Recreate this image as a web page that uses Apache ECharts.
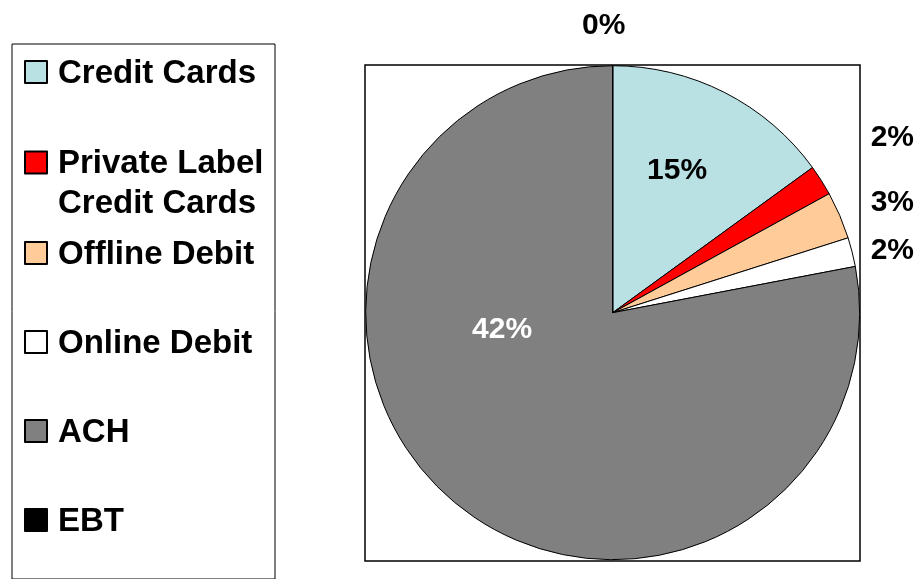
<!DOCTYPE html>
<html>
<head>
<meta charset="utf-8">
<script src="https://cdn.jsdelivr.net/npm/echarts@6/dist/echarts.min.js"></script>
<style>
  html, body { margin: 0; padding: 0; background: #fff; }
  #chart { width: 921px; height: 579px; }
</style>
</head>
<body>
<div id="chart"></div>
<script>
// ---- data ----
const categories = ['Credit Cards', 'Private Label Credit Cards', 'Offline Debit', 'Online Debit', 'ACH', 'EBT'];
// share of the circle each slice covers, in percent
const sliceShares = [15.0, 2.0, 3.1, 1.9, 78.0, 0];
// data labels as printed on the chart
const labelTexts = ['15%', '2%', '3%', '2%', '42%', '0%'];

// ---- styling ----
const sliceColors = ['#B9E0E3', '#FF0000', '#FFCC99', '#FFFFFF', '#808080', '#000000'];
const labelMode = ['inside', 'outside', 'outside', 'outside', 'inside', 'outside'];
const leaderLength = [0, 79, 33, 5, 0, 40];
const labelNudge = [[7, -29], [0, 0], [0, 0], [0, 0], [-30, -80], [-9, 0]];
const FONT = 'Liberation Sans, Arial, sans-serif';

const chart = echarts.init(document.getElementById('chart'));

const pieData = categories.map((name, i) => ({
  name: name,
  value: sliceShares[i],
  itemStyle: { color: sliceColors[i] },
  label: {
    position: labelMode[i],
    alignTo: (labelMode[i] === 'outside' && i !== 5) ? 'edge' : 'none',
    color: i === 4 ? '#FFFFFF' : '#000000'
  },
  labelLine: { show: false, length: leaderLength[i], length2: 0 }
}));

chart.setOption({
  animation: false,
  backgroundColor: '#FFFFFF',
  grid: [{
    // plot-area frame around the pie
    show: true,
    left: 365, top: 65, width: 495, height: 496,
    borderColor: '#000000', borderWidth: 1.5,
    backgroundColor: 'transparent'
  }, {
    // legend frame
    show: true,
    left: 12, top: 44, width: 263, height: 620,
    borderColor: '#000000', borderWidth: 1,
    backgroundColor: 'transparent'
  }],
  legend: {
    orient: 'vertical',
    left: 24, top: 12, height: 900,
    padding: 0,
    itemWidth: 22, itemHeight: 22,
    itemGap: -31,
    icon: 'rect',
    selectedMode: false,
    textStyle: {
      fontFamily: FONT, fontWeight: 'bold', fontSize: 33, lineHeight: 40,
      color: '#000000', padding: [42, 0, 38, 6],
      rich: {
        t: { fontFamily: FONT, fontWeight: 'bold', fontSize: 33, lineHeight: 40, color: '#000000' }
      }
    },
    formatter: function (name) {
      return name.replace('Private Label ', 'Private Label\n')
        .split('\n').map(s => '{t|' + s + '}').join('\n');
    },
    data: categories.map((name, i) => i === 1
      ? { name: name, textStyle: { padding: [43, 0, 0, 6] } }
      : { name: name })
  },
  series: [{
    type: 'pie',
    center: [612.7, 312.7],
    radius: [0, 247],
    startAngle: 90,
    clockwise: true,
    avoidLabelOverlap: false,
    minShowLabelAngle: 0,
    itemStyle: { borderColor: '#000000', borderWidth: 1 },
    emphasis: { disabled: true },
    label: {
      show: true,
      fontFamily: FONT, fontWeight: 'bold', fontSize: 30,
      edgeDistance: 7,
      distanceToLabelLine: 0,
      formatter: function (p) { return labelTexts[p.dataIndex]; }
    },
    labelLayout: function (p) {
      const o = { dx: labelNudge[p.dataIndex][0], dy: labelNudge[p.dataIndex][1] };
      if (p.dataIndex === 5) { o.align = 'center'; }
      return o;
    },
    data: pieData
  }]
});
</script>
</body>
</html>
